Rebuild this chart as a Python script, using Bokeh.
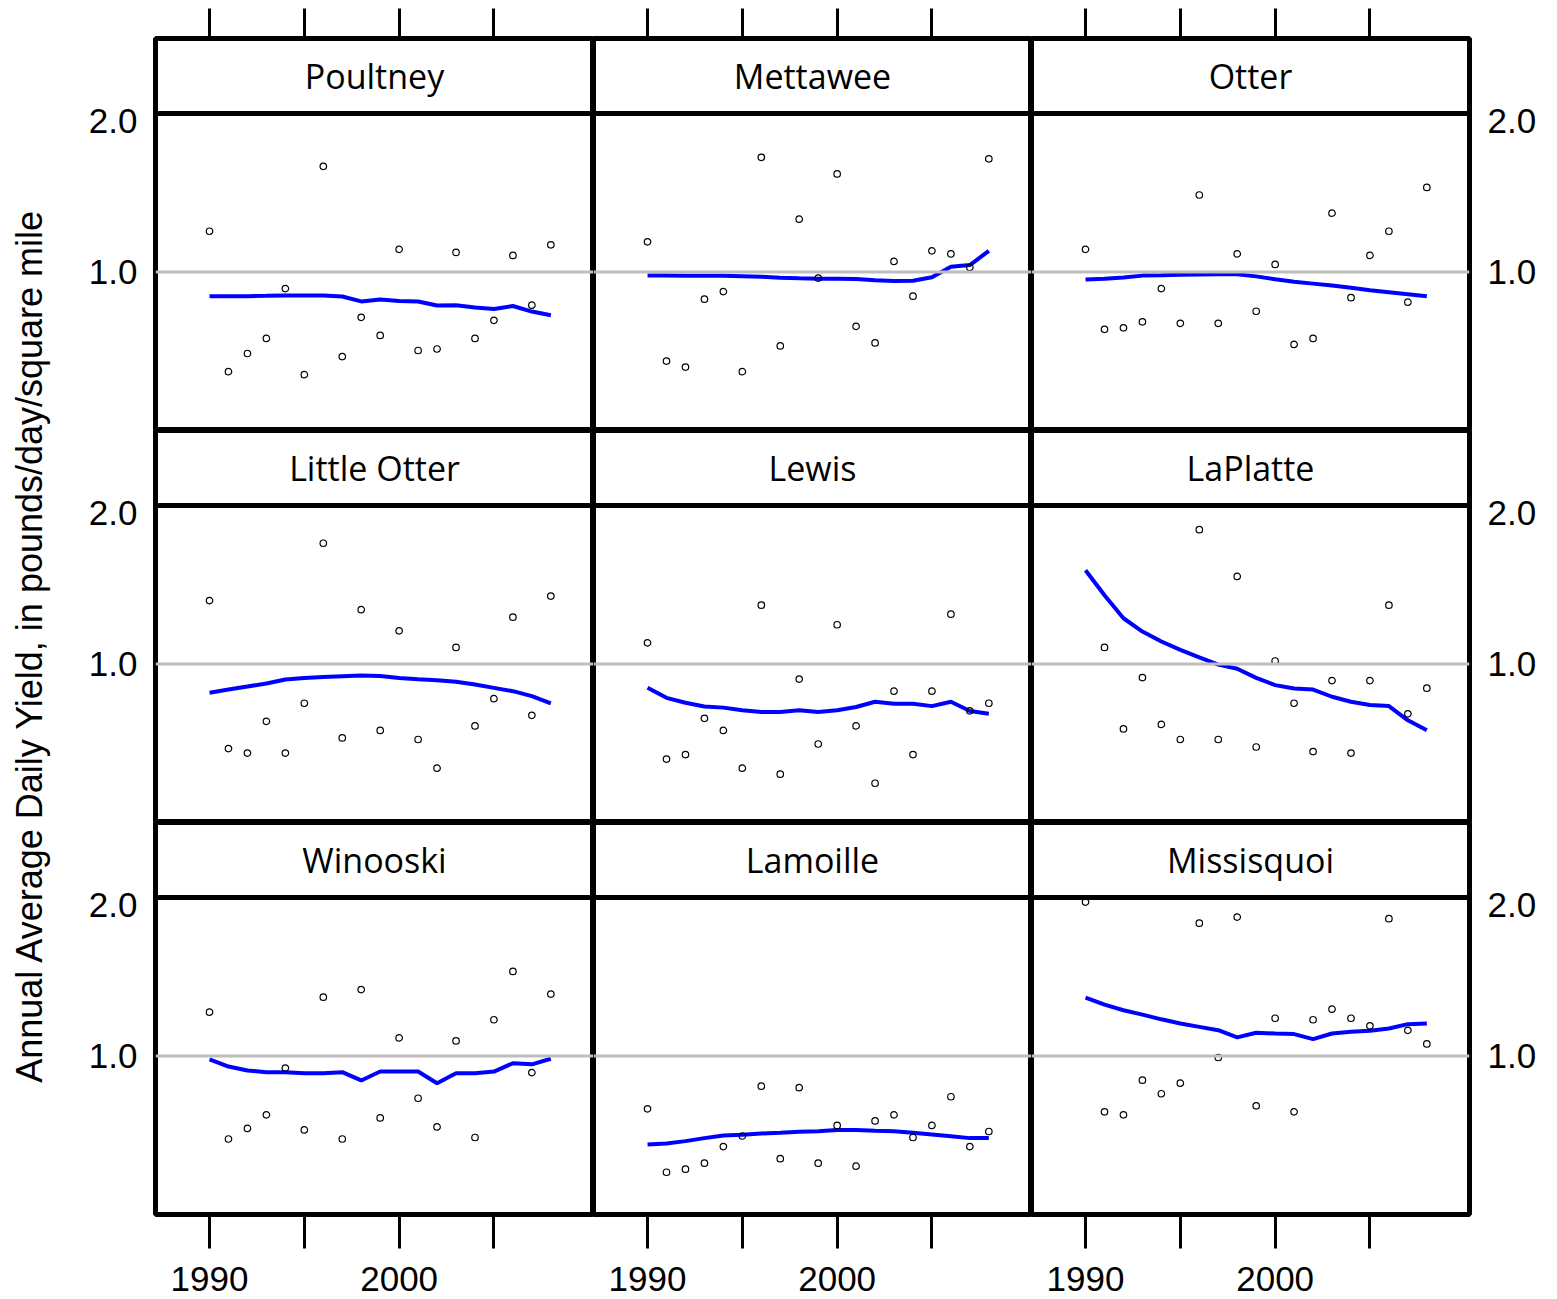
import math
from bokeh.plotting import figure
from bokeh.models import Range1d, Span, Label, FixedTicker, LinearAxis
from bokeh.layouts import row, column
from bokeh.embed import file_html
from bokeh.resources import INLINE

years = list(range(1990, 2009))

rivers = ["Poultney", "Mettawee", "Otter",
          "Little Otter", "Lewis", "LaPlatte",
          "Winooski", "Lamoille", "Missisquoi"]

poultney_obs = [1.27, 0.34, 0.46, 0.56, 0.89, 0.32, 1.70, 0.44, 0.70, 0.58,
                1.15, 0.48, 0.49, 1.13, 0.56, 0.68, 1.11, 0.78, 1.18]
poultney_fit = [0.840, 0.840, 0.840, 0.842, 0.845, 0.845, 0.845, 0.838, 0.805, 0.818,
                0.808, 0.805, 0.778, 0.780, 0.765, 0.755, 0.775, 0.738, 0.713]

mettawee_obs = [1.20, 0.41, 0.37, 0.82, 0.87, 0.34, 1.76, 0.51, 1.35, 0.96,
                1.65, 0.64, 0.53, 1.07, 0.84, 1.14, 1.12, 1.03, 1.75]
mettawee_fit = [0.976, 0.976, 0.975, 0.975, 0.975, 0.972, 0.968, 0.962, 0.958, 0.955,
                0.955, 0.953, 0.945, 0.940, 0.942, 0.965, 1.035, 1.046, 1.140]

otter_obs = [1.15, 0.62, 0.63, 0.67, 0.89, 0.66, 1.51, 0.66, 1.12, 0.74,
             1.05, 0.52, 0.56, 1.39, 0.83, 1.11, 1.27, 0.80, 1.56]
otter_fit = [0.950, 0.956, 0.963, 0.976, 0.978, 0.982, 0.984, 0.985, 0.985, 0.971,
             0.952, 0.936, 0.923, 0.910, 0.895, 0.879, 0.866, 0.853, 0.840]

little_otter_obs = [1.42, 0.44, 0.41, 0.62, 0.41, 0.74, 1.80, 0.51, 1.36, 0.56,
                    1.22, 0.50, 0.31, 1.11, 0.59, 0.77, 1.31, 0.66, 1.45]
little_otter_fit = [0.809, 0.831, 0.851, 0.871, 0.897, 0.908, 0.914, 0.919, 0.923, 0.921,
                    0.908, 0.899, 0.893, 0.882, 0.864, 0.842, 0.820, 0.787, 0.739]

lewis_obs = [1.14, 0.37, 0.40, 0.64, 0.56, 0.31, 1.39, 0.27, 0.90, 0.47,
             1.26, 0.59, 0.21, 0.82, 0.40, 0.82, 1.33, 0.69, 0.74]
lewis_fit = [0.842, 0.776, 0.743, 0.719, 0.711, 0.693, 0.682, 0.682, 0.693, 0.682,
             0.693, 0.715, 0.750, 0.737, 0.737, 0.721, 0.750, 0.689, 0.671]

laplatte_obs = [float("nan"), 1.11, 0.57, 0.91, 0.60, 0.50, 1.89, 0.50, 1.58, 0.45,
                1.02, 0.74, 0.42, 0.89, 0.41, 0.89, 1.39, 0.67, 0.84]
laplatte_fit = [1.621, 1.456, 1.303, 1.215, 1.149, 1.094, 1.044, 0.996, 0.969, 0.908,
                0.860, 0.838, 0.831, 0.783, 0.750, 0.728, 0.721, 0.627, 0.561]

winooski_obs = [1.29, 0.45, 0.52, 0.61, 0.92, 0.51, 1.39, 0.45, 1.44, 0.59,
                1.12, 0.72, 0.53, 1.10, 0.46, 1.24, 1.56, 0.89, 1.41]
winooski_fit = [0.978, 0.930, 0.904, 0.893, 0.893, 0.886, 0.886, 0.893, 0.838, 0.897,
                0.897, 0.897, 0.820, 0.886, 0.886, 0.897, 0.952, 0.945, 0.982]

lamoille_obs = [0.65, 0.23, 0.25, 0.29, 0.40, 0.47, 0.80, 0.32, 0.79, 0.29,
                0.54, 0.27, 0.57, 0.61, 0.46, 0.54, 0.73, 0.40, 0.50]
lamoille_fit = [0.414, 0.421, 0.436, 0.456, 0.474, 0.478, 0.487, 0.491, 0.498, 0.502,
                0.509, 0.509, 0.504, 0.502, 0.491, 0.480, 0.469, 0.456, 0.456]

missisquoi_obs = [2.02, 0.63, 0.61, 0.84, 0.75, 0.82, 1.88, 0.99, 1.92, 0.67,
                  1.25, 0.63, 1.24, 1.31, 1.25, 1.20, 1.91, 1.17, 1.08]
missisquoi_fit = [1.386, 1.340, 1.303, 1.274, 1.243, 1.215, 1.193, 1.171, 1.123, 1.154,
                  1.149, 1.145, 1.112, 1.149, 1.160, 1.167, 1.182, 1.211, 1.215]

observed = [poultney_obs, mettawee_obs, otter_obs,
            little_otter_obs, lewis_obs, laplatte_obs,
            winooski_obs, lamoille_obs, missisquoi_obs]
fitted = [poultney_fit, mettawee_fit, otter_fit,
          little_otter_fit, lewis_fit, laplatte_fit,
          winooski_fit, lamoille_fit, missisquoi_fit]

x_ticks = [1990, 1995, 2000, 2005]
x_labels = {1990: "1990", 1995: "", 2000: "2000", 2005: ""}
y_ticks = [1, 2]
y_labels = {1: "1.0", 2: "2.0"}
y_title = "Annual Average Daily Yield, in pounds/day/square mile"

# ---- layout / style constants ----
X0, X1 = 1987.15, 2010.25
Y0, Y1 = -0.05, 2.05          # data part of each panel
FRAME_W = 438
STRIP_H = 75
PANEL_H = 317
Y_TOP = Y1 + STRIP_H * (Y1 - Y0) / PANEL_H   # strip sits above the data part
LEFT_PAD = 95
RIGHT_PAD = 88
TOP_PAD = 38
BOTTOM_PAD = 85
TITLE_W = 60
TOTAL_H = TOP_PAD + 3 * (STRIP_H + PANEL_H) + BOTTOM_PAD
FRAME_LW = 5
TICK_FONT = "Liberation Sans"
STRIP_FONT = "Open Sans"


def style_axis(ax):
    ax.axis_line_color = None
    ax.minor_tick_line_color = None
    ax.major_label_text_font = TICK_FONT
    ax.major_label_text_color = "black"


columns = []
for c in range(3):
    col_children = []
    ml = LEFT_PAD if c == 0 else 0
    mr = RIGHT_PAD if c == 2 else 0
    w = FRAME_W + ml + mr
    for r in range(3):
        i = r * 3 + c
        mt = TOP_PAD if r == 0 else 0
        mb = BOTTOM_PAD if r == 2 else 0
        p = figure(width=w, height=STRIP_H + PANEL_H + mt + mb,
                   x_range=Range1d(X0, X1), y_range=Range1d(Y0, Y_TOP),
                   x_axis_type=None, y_axis_type=None,
                   output_backend="svg", toolbar_location=None,
                   min_border_left=ml, min_border_right=mr,
                   min_border_top=mt, min_border_bottom=mb)
        p.outline_line_color = "black"
        p.outline_line_width = FRAME_LW
        p.background_fill_color = "white"
        p.border_fill_color = "white"
        p.grid.visible = False

        # reference line, fitted curve, observations
        p.add_layout(Span(location=1.0, dimension="width",
                          line_color="#bebebe", line_width=3))
        p.line(years, fitted[i], line_color="#0000ff", line_width=4)
        p.scatter(years, observed[i], marker="circle", size=6.5,
                  fill_color=None, line_color="black", line_width=1.2)

        # strip with river name
        p.add_layout(Span(location=Y1, dimension="width",
                          line_color="black", line_width=FRAME_LW))
        p.add_layout(Label(x=(X0 + X1) / 2, y=(Y1 + Y_TOP) / 2, text=rivers[i],
                           text_align="center", text_baseline="middle",
                           text_font=STRIP_FONT, text_font_size="34px",
                           text_color="black"))

        if r == 0:
            ax = LinearAxis(ticker=FixedTicker(ticks=x_ticks),
                            major_label_overrides={t: "" for t in x_ticks})
            style_axis(ax)
            ax.major_tick_out = 30
            ax.major_tick_in = 0
            ax.major_tick_line_width = 3
            ax.major_label_text_font_size = "1px"
            ax.major_label_standoff = 0
            p.add_layout(ax, "above")
        if c == 0 or c == 2:
            ay = LinearAxis(ticker=FixedTicker(ticks=y_ticks),
                            major_label_overrides=y_labels)
            style_axis(ay)
            ay.major_tick_line_color = None
            ay.major_tick_out = 0
            ay.major_tick_in = 0
            ay.major_label_standoff = 18
            ay.major_label_text_font_size = "35px"
            ay.major_label_orientation = "horizontal"
            p.add_layout(ay, "left" if c == 0 else "right")
        if r == 2:
            ax = LinearAxis(ticker=FixedTicker(ticks=x_ticks),
                            major_label_overrides=x_labels)
            style_axis(ax)
            ax.major_tick_out = 34
            ax.major_tick_in = 0
            ax.major_tick_line_width = 3
            ax.major_label_standoff = 18
            ax.major_label_text_font_size = "35px"
            p.add_layout(ax, "below")
        col_children.append(p)
    columns.append(column(*col_children, spacing=0))

# y-axis title strip
t = figure(width=TITLE_W, height=TOTAL_H,
           x_range=Range1d(0, TITLE_W), y_range=Range1d(0, TOTAL_H),
           x_axis_type=None, y_axis_type=None,
           output_backend="svg", toolbar_location=None,
           min_border=0)
t.outline_line_color = None
t.grid.visible = False
t.add_layout(Label(x=29, y=TOTAL_H - 645, text=y_title, angle=math.pi / 2,
                   text_align="center", text_baseline="middle",
                   text_font=TICK_FONT, text_font_size="36px",
                   text_color="black"))

layout = row(t, *columns, spacing=0)

open("out.html", "w").write(file_html(layout, INLINE))
